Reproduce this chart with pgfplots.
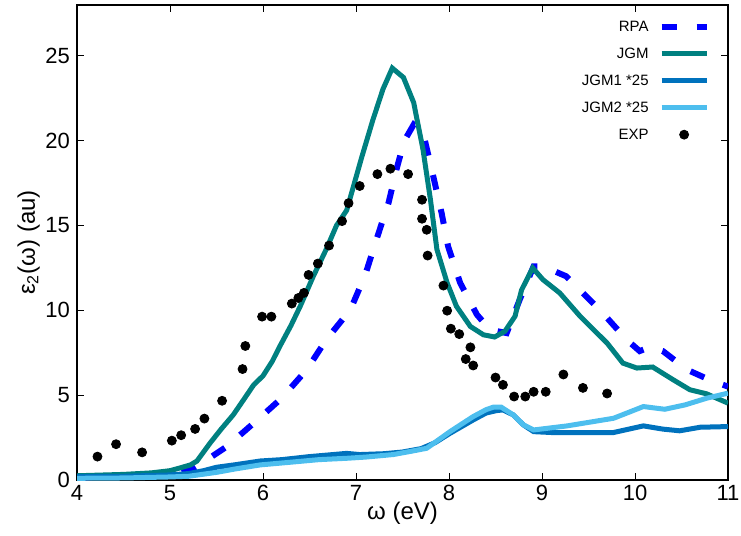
\documentclass[border=0pt]{standalone}
\usepackage{pgfplots}
\pgfplotsset{compat=1.18}
\usetikzlibrary{calc}
\usepackage{fontspec}
\setmainfont{Liberation Sans}
\definecolor{rpa}{RGB}{0,0,255}
\definecolor{jgm}{RGB}{0,128,128}
\definecolor{jgmone}{RGB}{0,114,189}
\definecolor{jgmtwo}{RGB}{77,190,238}
\pgfplotsset{dotleg/.style={legend image code/.code={\draw[##1] plot coordinates {(11.25pt,0pt)};}}}
\begin{document}
\begin{tikzpicture}
\begin{axis}[
  scale only axis,
  width=325.5pt, height=237.5pt,
  xmin=4, xmax=11, ymin=0, ymax=28,
  xtick={4,5,6,7,8,9,10,11},
  ytick={0,5,10,15,20,25},
  tick align=inside,
  major tick length=3.5pt,
  tick style={line width=0.5pt, black},
  axis line style={line width=1.2pt},
  /pgf/number format/assume math mode=true,
  tick label style={font=\fontsize{11}{13}\selectfont},
  xticklabel style={yshift=1pt},
  label style={font=\fontsize{12}{14}\selectfont},
  xlabel={ω (eV)},
  ylabel={ε\textsubscript{2}(ω) (au)},
  xlabel style={yshift=6pt},
  ylabel style={yshift=-4pt},
  legend plot pos=right,
  legend cell align=right,
  legend style={draw=none, fill=none, at={(0.9724,0.971)}, anchor=north east,
    font=\fontsize{7.5}{9}\selectfont, inner sep=0pt, row sep=6pt, column sep=5pt,
    nodes={inner sep=0pt, text height=6pt, text depth=1.5pt}},
  legend image code/.code={\draw[#1] (0pt,0pt) -- (22.5pt,0pt);},
]
\coordinate (ll) at (rel axis cs:0,0);
\coordinate (ur) at (rel axis cs:1,1);
\addplot[rpa, line width=3pt, dash pattern=on 7.5pt off 10pt] coordinates {
(4.0,0.15)(4.5,0.2)(5.0,0.3)(5.22,0.59)(5.4,1.2)(5.61,1.97)(5.90,3.35)(6.20,4.82)(6.47,6.5)(6.68,8.27)(6.94,10.04)(7.10,12.1)(7.22,14.18)(7.35,16.34)(7.44,18.41)(7.52,20.0)(7.62,20.95)(7.72,20.5)(7.83,17.92)(7.92,15.75)(7.99,13.78)(8.12,11.62)(8.30,9.75)(8.44,8.86)(8.62,8.66)(8.76,10.63)(8.91,12.6)(9.01,12.6)(9.26,12.01)(9.62,10.04)(9.91,8.27)(10.05,7.6)(10.17,7.85)(10.3,7.6)(10.56,6.5)(10.84,5.81)(11.0,5.51)
};
\addlegendentry{RPA}
\addplot[jgm, line width=2.5pt] coordinates {
(4.0,0.25)(4.5,0.33)(4.8,0.42)(5.0,0.55)(5.1,0.7)(5.22,0.89)(5.29,1.12)(5.43,2.17)(5.55,3.0)(5.68,3.84)(5.8,4.8)(5.90,5.61)(6.0,6.14)(6.1,7.0)(6.18,7.87)(6.3,9.1)(6.40,10.24)(6.54,12.0)(6.68,13.6)(6.79,15.0)(6.9,15.9)(7.06,19.0)(7.18,21.2)(7.29,23.04)(7.39,24.28)(7.51,23.73)(7.62,22.25)(7.72,19.49)(7.80,16.54)(7.87,13.59)(7.98,11.62)(8.08,10.24)(8.23,9.05)(8.37,8.56)(8.49,8.43)(8.60,8.76)(8.71,9.65)(8.78,11.2)(8.90,12.5)(9.01,11.81)(9.19,11.03)(9.41,9.65)(9.70,8.07)(9.87,6.89)(10.02,6.60)(10.19,6.66)(10.41,5.91)(10.59,5.32)(10.77,5.08)(11.0,4.53)
};
\addlegendentry{JGM}
\addplot[jgmone, line width=2.5pt] coordinates {
(4.0,0.2)(4.5,0.22)(5.0,0.3)(5.2,0.38)(5.36,0.55)(5.5,0.75)(5.7,0.9)(5.97,1.12)(6.2,1.2)(6.5,1.38)(6.9,1.57)(7.04,1.5)(7.3,1.55)(7.5,1.65)(7.7,1.85)(7.85,2.2)(8.01,2.75)(8.26,3.54)(8.40,3.95)(8.51,4.09)(8.58,4.13)(8.69,3.84)(8.80,3.25)(8.91,2.85)(9.1,2.8)(9.27,2.8)(9.77,2.80)(10.09,3.19)(10.3,3.0)(10.48,2.9)(10.70,3.11)(11.0,3.15)
};
\addlegendentry{JGM1 *25}
\addplot[jgmtwo, line width=2.5pt] coordinates {
(4.0,0.1)(4.5,0.12)(5.0,0.18)(5.2,0.22)(5.5,0.45)(5.7,0.65)(5.97,0.89)(6.3,1.05)(6.6,1.2)(6.9,1.28)(7.1,1.35)(7.4,1.5)(7.6,1.7)(7.76,1.87)(8.01,2.85)(8.26,3.74)(8.40,4.15)(8.48,4.3)(8.56,4.3)(8.69,3.84)(8.80,3.25)(8.91,2.95)(9.27,3.19)(9.77,3.64)(10.09,4.33)(10.32,4.17)(10.54,4.43)(10.77,4.82)(11.0,5.12)
};
\addlegendentry{JGM2 *25}
\addplot[only marks, mark=*, mark size=2.25pt, black, mark options={fill=black}, dotleg] coordinates {
(4.22,1.38)(4.42,2.11)(4.70,1.63)(5.02,2.32)(5.12,2.64)(5.27,3.01)(5.37,3.62)(5.56,4.67)(5.78,6.54)(5.81,7.9)(5.99,9.63)(6.09,9.63)(6.31,10.4)(6.38,10.73)(6.44,11.03)(6.49,12.09)(6.59,12.76)(6.71,13.82)(6.85,15.26)(6.92,16.32)(7.04,17.33)(7.23,18.03)(7.37,18.35)(7.56,18.03)(7.71,16.52)(7.71,15.4)(7.76,14.75)(7.77,13.23)(7.94,11.46)(7.98,9.98)(8.02,8.92)(8.11,8.6)(8.23,7.82)(8.18,7.13)(8.26,6.75)(8.50,6.04)(8.58,5.61)(8.70,4.92)(8.82,4.92)(8.91,5.2)(9.04,5.2)(9.23,6.22)(9.44,5.43)(9.70,5.10)
};
\addlegendentry{EXP}
\end{axis}
\pgfresetboundingbox
\path[use as bounding box] ($(ll)+(-38.5pt,-27.5pt)$) rectangle ($(ur)+(6.5pt,2.5pt)$);
\end{tikzpicture}
\end{document}
